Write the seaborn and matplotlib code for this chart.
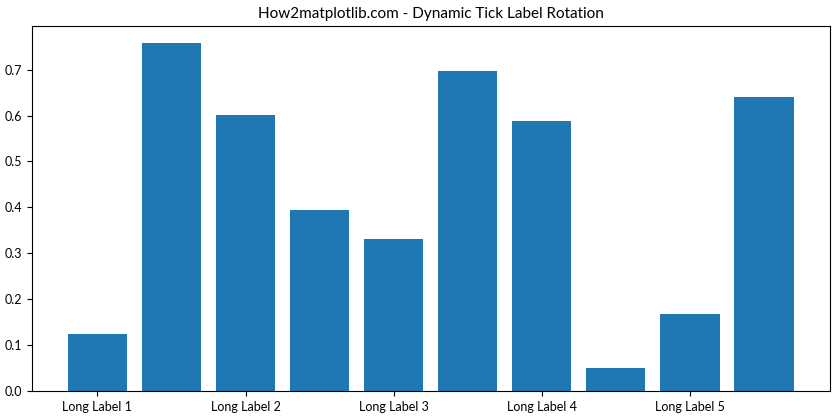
import matplotlib
matplotlib.use("Agg")
import matplotlib.pyplot as plt
import seaborn as sns
import pandas as pd

plt.rcParams['font.family'] = ['Lato', 'DejaVu Sans']

categories = [f"Cat {i}" for i in range(10)]
values = [0.124, 0.757, 0.602, 0.395, 0.331, 0.698, 0.589, 0.051, 0.168, 0.641]
tick_positions = [0, 2, 4, 6, 8]
tick_labels = ["Long Label 1", "Long Label 2", "Long Label 3", "Long Label 4", "Long Label 5"]

df = pd.DataFrame({"cat": categories, "val": values})

fig, ax = plt.subplots(figsize=(8.4, 4.2), dpi=100)
sns.barplot(data=df, x="cat", y="val", color="#1f77b4", saturation=1, width=0.8, ax=ax)
ax.set_xlim(-0.4 - 0.49, 9.4 + 0.49)
ax.set_ylim(0, 0.757 * 1.05)
ax.set_xticks(tick_positions)
ax.set_xticklabels(tick_labels)
ax.set_xlabel("")
ax.set_ylabel("")
ax.tick_params(labelsize=9)
ax.set_title("How2matplotlib.com - Dynamic Tick Label Rotation", fontsize=11)
fig.subplots_adjust(left=0.0375, right=0.988, top=0.938, bottom=0.069)
fig.savefig("out.png", dpi=100)
